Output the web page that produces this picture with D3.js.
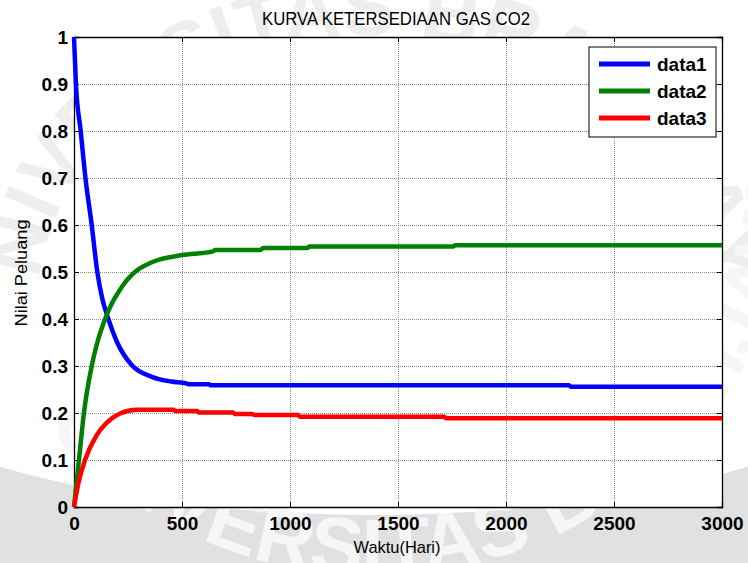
<!DOCTYPE html>
<html>
<head>
<meta charset="utf-8">
<script src="https://cdn.jsdelivr.net/npm/d3@7"></script>
<style>
  body { margin: 0; background: #fff; }
  svg { display: block; font-family: "Liberation Sans", Arial, sans-serif; }
</style>
</head>
<body>
<div id="chart"></div>
<script>
// values
const xTicks = [0, 500, 1000, 1500, 2000, 2500, 3000];
const yTicks = [0, 0.1, 0.2, 0.3, 0.4, 0.5, 0.6, 0.7, 0.8, 0.9, 1];
const seriesNames = ["data1", "data2", "data3"];
const seriesColors = ["#0000ff", "#008000", "#ff0000"];

const data1Days = [0, 9, 31, 53, 82, 108, 130, 159, 200, 267, 360, 450, 520, 530, 625, 635, 2290, 2300, 3000];
const data1Values = [1, 0.9, 0.8, 0.7, 0.6, 0.5, 0.445, 0.4, 0.35, 0.302, 0.277, 0.267, 0.263, 0.261, 0.261, 0.259, 0.259, 0.256, 0.256];

const data2Days = [0, 23, 46, 82, 108, 144, 175, 210, 240, 270, 306, 352, 398, 450, 499, 644, 654, 865, 875, 1080, 1090, 1755, 1765, 3000];
const data2Values = [0, 0.1, 0.2, 0.3, 0.35, 0.4, 0.433, 0.46, 0.48, 0.495, 0.508, 0.519, 0.527, 0.532, 0.536, 0.544, 0.547, 0.547, 0.551, 0.551, 0.554, 0.554, 0.557, 0.557];

const data3Days = [0, 20, 51, 105, 151, 213, 290, 460, 470, 570, 580, 735, 745, 825, 835, 1037, 1047, 1712, 1722, 3000];
const data3Values = [0, 0.05, 0.1, 0.153, 0.179, 0.199, 0.207, 0.207, 0.204, 0.204, 0.201, 0.201, 0.198, 0.198, 0.196, 0.196, 0.192, 0.192, 0.189, 0.189];

const width = 748;
const height = 563;
const margin = { top: 37, right: 26, bottom: 56, left: 74 };
const innerW = width - margin.left - margin.right;
const innerH = height - margin.top - margin.bottom;

const svg = d3.select("#chart")
    .append("svg")
    .attr("width", width)
    .attr("height", height);

// faint university watermark behind the figure
const defs = svg.append("defs");
const cx = 374, cy = 270;
defs.append("path").attr("id", "wmTop")
    .attr("d", `M${cx - 335},${cy + 30} A335,265 0 0 1 ${cx + 335},${cy + 30}`);
defs.append("path").attr("id", "wmBottom")
    .attr("d", `M${cx - 430},150 A430,425 0 0 0 ${cx + 430},150`);

svg.append("path")
    .attr("d", `M${cx - 628},${cy} A628,245 0 0 0 ${cx + 628},${cy} L${width + 10},${cy} L${width + 10},${height + 10} L-10,${height + 10} L-10,${cy} Z`)
    .attr("fill", "#e1e1e1");

svg.append("text")
    .style("font-size", "80px").style("font-weight", "bold")
    .attr("fill", "#eeeeee")
    .append("textPath")
    .attr("href", "#wmTop")
    .attr("startOffset", "50%")
    .attr("text-anchor", "middle")
    .text("UNIVERSITAS BRAWIJAYA");

const bottomPath = defs.select("#wmBottom").node();
let sOff = 0;
for (let l = 0; l < bottomPath.getTotalLength(); l += 2) {
    if (bottomPath.getPointAtLength(l).x >= 548) { sOff = l; break; }
}
svg.append("text")
    .style("font-size", "80px").style("font-weight", "bold")
    .attr("fill", "#f6f6f6")
    .append("textPath")
    .attr("href", "#wmBottom")
    .attr("startOffset", sOff - 549)
    .text("UNIVERSITAS BRAWIJAYA");

const x = d3.scaleLinear().domain([0, 3000]).range([margin.left, margin.left + innerW]);
const y = d3.scaleLinear().domain([0, 1]).range([margin.top + innerH, margin.top]);

// plot background
svg.append("rect")
    .attr("x", margin.left).attr("y", margin.top)
    .attr("width", innerW).attr("height", innerH)
    .attr("fill", "#fff");

// dotted grid
const grid = svg.append("g").attr("stroke", "#8c8c8c").attr("stroke-dasharray", "1,1").attr("stroke-width", 1);
grid.selectAll(".gx").data(xTicks.slice(1, -1)).enter().append("line")
    .attr("x1", d => Math.round(x(d)) + 0.5).attr("x2", d => Math.round(x(d)) + 0.5)
    .attr("y1", margin.top).attr("y2", margin.top + innerH);
grid.selectAll(".gy").data(yTicks.slice(1, -1)).enter().append("line")
    .attr("y1", d => Math.round(y(d)) + 0.5).attr("y2", d => Math.round(y(d)) + 0.5)
    .attr("x1", margin.left).attr("x2", margin.left + innerW);

// axes with inward ticks on all four sides
const fmtY = d => d === 0 || d === 1 ? String(d) : d3.format(".1f")(d);
svg.append("g")
    .attr("transform", `translate(0,${margin.top + innerH})`)
    .call(d3.axisBottom(x).tickValues(xTicks).tickSize(-5).tickPadding(10).tickFormat(d3.format("d")));
svg.append("g")
    .attr("transform", `translate(${margin.left},0)`)
    .call(d3.axisLeft(y).tickValues(yTicks).tickSize(-5).tickPadding(6).tickFormat(fmtY));
svg.append("g")
    .attr("transform", `translate(0,${margin.top})`)
    .call(d3.axisTop(x).tickValues(xTicks).tickSize(-5).tickFormat(""));
svg.append("g")
    .attr("transform", `translate(${margin.left + innerW},0)`)
    .call(d3.axisRight(y).tickValues(yTicks).tickSize(-5).tickFormat(""));

svg.selectAll(".domain").attr("stroke", "#000").attr("stroke-width", 1.3);
svg.selectAll(".tick line").attr("stroke", "#000");
svg.selectAll(".tick text")
    .attr("fill", "#000")
    .style("font-size", "19px")
    .style("font-weight", "bold")
    .style("font-family", "'Liberation Sans', Arial, sans-serif");

// lines
const series = [
    { name: seriesNames[0], days: data1Days, values: data1Values, color: seriesColors[0] },
    { name: seriesNames[1], days: data2Days, values: data2Values, color: seriesColors[1] },
    { name: seriesNames[2], days: data3Days, values: data3Values, color: seriesColors[2] }
];

const line = d3.line()
    .x(d => x(d[0]))
    .y(d => y(d[1]))
    .curve(d3.curveMonotoneX);

svg.append("g").selectAll("path")
    .data(series)
    .enter()
    .append("path")
    .attr("d", s => line(d3.zip(s.days, s.values)))
    .attr("fill", "none")
    .attr("stroke", s => s.color)
    .attr("stroke-width", 4.5)
    .attr("stroke-linejoin", "round");

// legend
const legend = svg.append("g").attr("transform", "translate(589,47)");
legend.append("rect")
    .attr("width", 127).attr("height", 90)
    .attr("fill", "#fff").attr("stroke", "#000").attr("stroke-width", 1);
const items = legend.selectAll(".item")
    .data(series)
    .enter()
    .append("g")
    .attr("transform", (d, i) => `translate(0,${17 + i * 27})`);
items.append("line")
    .attr("x1", 10).attr("x2", 61)
    .attr("stroke", d => d.color)
    .attr("stroke-width", 5);
items.append("text")
    .attr("x", 68).attr("y", 7)
    .style("font-size", "19px")
    .style("font-weight", "bold")
    .text(d => d.name);

// titles
svg.append("text")
    .attr("x", 396).attr("y", 25)
    .attr("text-anchor", "middle")
    .attr("textLength", 268).attr("lengthAdjust", "spacingAndGlyphs")
    .style("font-size", "17.5px")
    .text("KURVA KETERSEDIAAN GAS CO2");

svg.append("text")
    .attr("x", 397).attr("y", 553)
    .attr("text-anchor", "middle")
    .attr("textLength", 87).attr("lengthAdjust", "spacingAndGlyphs")
    .style("font-size", "17px")
    .text("Waktu(Hari)");

svg.append("text")
    .attr("transform", `translate(27,${y(0.5) + 1}) rotate(-90)`)
    .attr("text-anchor", "middle")
    .attr("textLength", 107).attr("lengthAdjust", "spacingAndGlyphs")
    .style("font-size", "17px")
    .text("Nilai Peluang");
</script>
</body>
</html>
